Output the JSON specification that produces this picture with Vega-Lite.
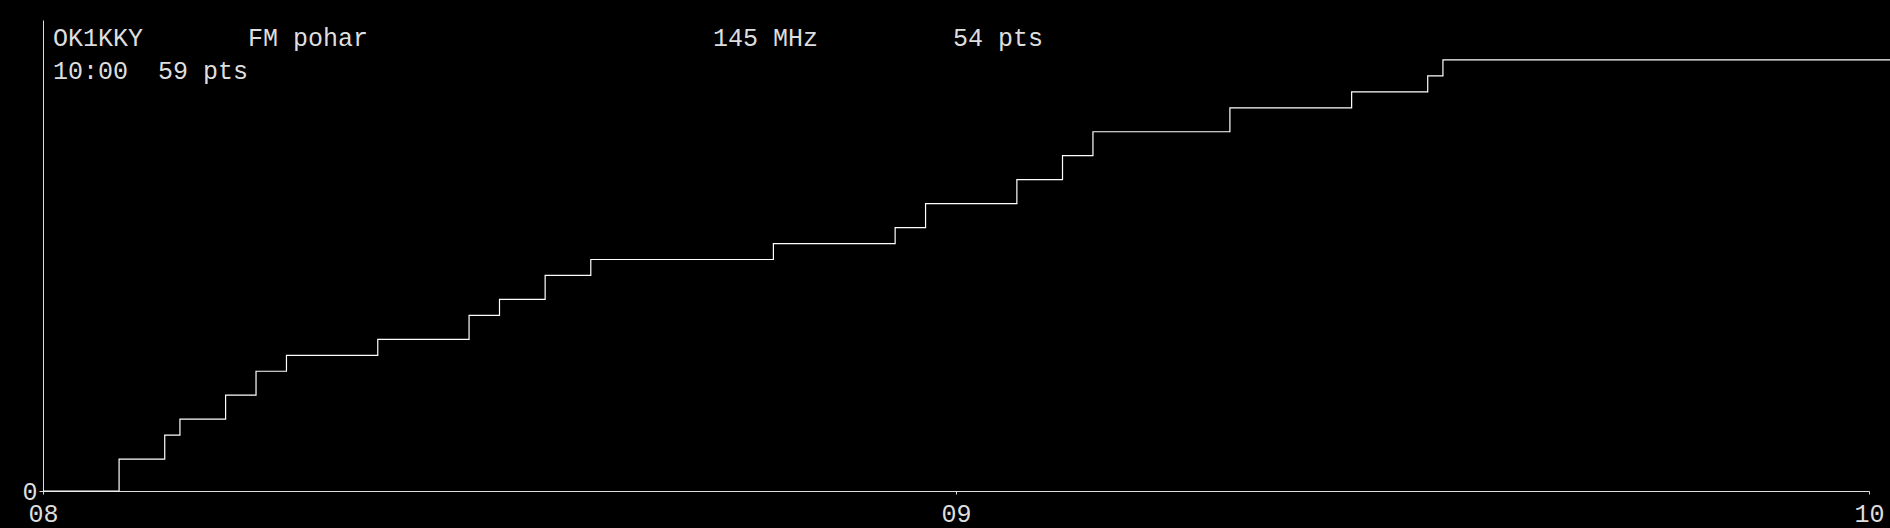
{
  "$schema": "https://vega.github.io/schema/vega-lite/v6.json",
  "width": 1826,
  "height": 471,
  "autosize": {"type": "none"},
  "padding": {"left": 43, "top": 20, "right": 21, "bottom": 37},
  "background": "#000000",
  "datasets": {
    "score": [
      {"time": "2024-01-01T08:00:00", "pts": 0},
      {"time": "2024-01-01T08:05:00", "pts": 4},
      {"time": "2024-01-01T08:08:00", "pts": 7},
      {"time": "2024-01-01T08:09:00", "pts": 9},
      {"time": "2024-01-01T08:12:00", "pts": 12},
      {"time": "2024-01-01T08:14:00", "pts": 15},
      {"time": "2024-01-01T08:16:00", "pts": 17},
      {"time": "2024-01-01T08:22:00", "pts": 19},
      {"time": "2024-01-01T08:28:00", "pts": 22},
      {"time": "2024-01-01T08:30:00", "pts": 24},
      {"time": "2024-01-01T08:33:00", "pts": 27},
      {"time": "2024-01-01T08:36:00", "pts": 29},
      {"time": "2024-01-01T08:48:00", "pts": 31},
      {"time": "2024-01-01T08:56:00", "pts": 33},
      {"time": "2024-01-01T08:58:00", "pts": 36},
      {"time": "2024-01-01T09:04:00", "pts": 39},
      {"time": "2024-01-01T09:07:00", "pts": 42},
      {"time": "2024-01-01T09:09:00", "pts": 45},
      {"time": "2024-01-01T09:18:00", "pts": 48},
      {"time": "2024-01-01T09:26:00", "pts": 50},
      {"time": "2024-01-01T09:31:00", "pts": 52},
      {"time": "2024-01-01T09:32:00", "pts": 54},
      {"time": "2024-01-01T10:03:00", "pts": 54}
    ],
    "header": [
      {"label": "OK1KKY", "col": 0, "row": 0},
      {"label": "FM pohar", "col": 13, "row": 0},
      {"label": "145 MHz", "col": 44, "row": 0},
      {"label": "54 pts", "col": 60, "row": 0},
      {"label": "10:00", "col": 0, "row": 1},
      {"label": "59 pts", "col": 7, "row": 1}
    ]
  },
  "layer": [
    {
      "data": {"name": "score"},
      "mark": {"type": "line", "interpolate": "step-after", "color": "#ffffff", "strokeWidth": 1.2, "clip": false},
      "encoding": {
        "x": {
          "field": "time",
          "type": "temporal",
          "title": null,
          "scale": {
            "domain": [
              {"year": 2024, "month": 1, "date": 1, "hours": 8},
              {"year": 2024, "month": 1, "date": 1, "hours": 10}
            ],
            "nice": false
          },
          "axis": {
            "values": [
              {"year": 2024, "month": 1, "date": 1, "hours": 8},
              {"year": 2024, "month": 1, "date": 1, "hours": 9},
              {"year": 2024, "month": 1, "date": 1, "hours": 10}
            ],
            "format": "%H",
            "tickSize": 3,
            "labelPadding": 7,
            "labelBaseline": "top",
            "labelFlush": false,
            "labelOverlap": false,
            "grid": false
          }
        },
        "y": {
          "field": "pts",
          "type": "quantitative",
          "title": null,
          "scale": {"domain": [0, 59], "nice": false},
          "axis": {
            "values": [0],
            "tickSize": 4,
            "labelPadding": 2,
            "grid": false
          }
        }
      }
    },
    {
      "data": {"name": "header"},
      "mark": {
        "type": "text",
        "align": "left",
        "baseline": "alphabetic",
        "dx": 10,
        "font": "Liberation Mono",
        "fontSize": 25,
        "color": "#dedede"
      },
      "encoding": {
        "x": {
          "field": "col",
          "type": "quantitative",
          "scale": {"domain": [0, 121.75], "nice": false, "zero": false},
          "axis": null
        },
        "y": {
          "field": "row",
          "type": "quantitative",
          "scale": {"domain": [-0.82, 13.76], "nice": false, "zero": false, "reverse": true},
          "axis": null
        },
        "text": {"field": "label"}
      }
    }
  ],
  "resolve": {"scale": {"x": "independent", "y": "independent"}},
  "config": {
    "view": {"stroke": null},
    "axis": {
      "domainColor": "#dddddd",
      "tickColor": "#dddddd",
      "labelColor": "#dedede",
      "labelFont": "Liberation Mono",
      "labelFontSize": 25,
      "domainWidth": 1,
      "tickWidth": 1
    }
  }
}
